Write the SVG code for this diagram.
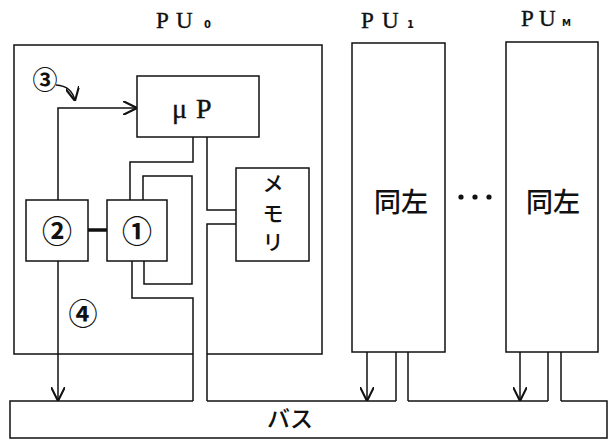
<svg xmlns="http://www.w3.org/2000/svg" width="612" height="441" viewBox="0 0 612 441">
<style>
.ln{fill:none;stroke:#111;stroke-width:1.5}
.lbl{font-family:"Liberation Serif",serif;fill:#111;stroke:#111;stroke-width:0.4}
.sub{font-family:"DejaVu Sans",sans-serif;font-weight:bold;stroke:none}
.jp{font-family:"Noto Sans CJK JP",sans-serif;fill:#111}
.cn{font-family:"Noto Sans CJK JP",sans-serif;fill:#111;font-weight:bold}
</style>
<defs>
<marker id="ah" markerUnits="userSpaceOnUse" markerWidth="14" markerHeight="14" viewBox="0 0 10 10" refX="10" refY="5" orient="auto">
<path d="M0,0 L10,5 L0,10" fill="none" stroke="#111" stroke-width="1.5"/>
</marker>
</defs>
<rect width="612" height="441" fill="#fff"/>
<g id="PU0">
<path class="ln" d="M193,354 H14 V45 H322 V354 H207"/>
<text class="lbl" font-size="23" y="28"><tspan x="156">P</tspan><tspan x="176">U</tspan><tspan class="sub" x="204" font-size="10">0</tspan></text>
</g>
<g id="uP">
<rect class="ln" x="137" y="76" width="122" height="61"/>
<text class="lbl" font-size="28" y="118"><tspan x="172">μ</tspan><tspan x="196">P</tspan></text>
</g>
<g id="mem">
<rect class="ln" x="236" y="168" width="73" height="93"/>
<text class="jp" font-size="21" font-weight="500" x="273" text-anchor="middle"><tspan x="273" y="191">メ</tspan><tspan x="273" y="221">モ</tspan><tspan x="273" y="250">リ</tspan></text>
</g>
<g id="c2">
<rect class="ln" x="26" y="200" width="62" height="61"/>
<text class="cn" font-size="30" x="57" y="242" text-anchor="middle">②</text>
</g>
<g id="c1">
<rect class="ln" x="107" y="200" width="60" height="61"/>
<text class="cn" font-size="30" x="137" y="242" text-anchor="middle">①</text>
</g>
<g id="PU1">
<rect class="ln" x="352" y="43" width="93" height="309"/>
<text class="lbl" font-size="23" y="28"><tspan x="361">P</tspan><tspan x="382">U</tspan><tspan class="sub" x="407" font-size="10">1</tspan></text>
<text class="jp" font-size="27" font-weight="500" x="401" y="212" text-anchor="middle">同左</text>
</g>
<g id="dots" fill="#111">
<circle cx="461" cy="197" r="2.6"/>
<circle cx="475" cy="197" r="2.6"/>
<circle cx="489" cy="197" r="2.6"/>
</g>
<g id="PUM">
<rect class="ln" x="506" y="42" width="92" height="310"/>
<text class="lbl" font-size="23" y="26"><tspan x="521">P</tspan><tspan x="539">U</tspan><tspan class="sub" x="562" font-size="9">M</tspan></text>
<text class="jp" font-size="27" font-weight="500" x="553" y="212" text-anchor="middle">同左</text>
</g>
<g id="bus">
<path class="ln" d="M193,401 H10 V438 H607 V401 H561 M548,401 H408 M396,401 H207"/>
<text class="jp" font-size="23" font-weight="500" x="290" y="427" text-anchor="middle">バス</text>
</g>
<g id="labels">
<text class="cn" font-size="25" x="45" y="89" text-anchor="middle">③</text>
<text class="cn" font-size="29" x="83" y="325" text-anchor="middle">④</text>
</g>
<g id="connectors">
<path class="ln" d="M56,85 Q72,86 75,101" marker-end="url(#ah)"/>
<path class="ln" d="M58,200 V108 H137" marker-end="url(#ah)"/>
<path class="ln" d="M58,261 V401" marker-end="url(#ah)"/>
<path class="ln" d="M88,230 H107" style="stroke-width:3.5"/>
<path class="ln" d="M193,137 V162 H130 V200"/>
<path class="ln" d="M207,137 V210 H236"/>
<path class="ln" d="M143,200 V176 H192 V284 H144 V261"/>
<path class="ln" d="M132,261 V298 H193 V401"/>
<path class="ln" d="M236,224 H207 V401"/>
<path class="ln" d="M367,352 V401" marker-end="url(#ah)"/>
<path class="ln" d="M396,352 V401"/>
<path class="ln" d="M408,352 V401"/>
<path class="ln" d="M520,352 V401" marker-end="url(#ah)"/>
<path class="ln" d="M548,352 V401"/>
<path class="ln" d="M561,352 V401"/>
</g>
</svg>
